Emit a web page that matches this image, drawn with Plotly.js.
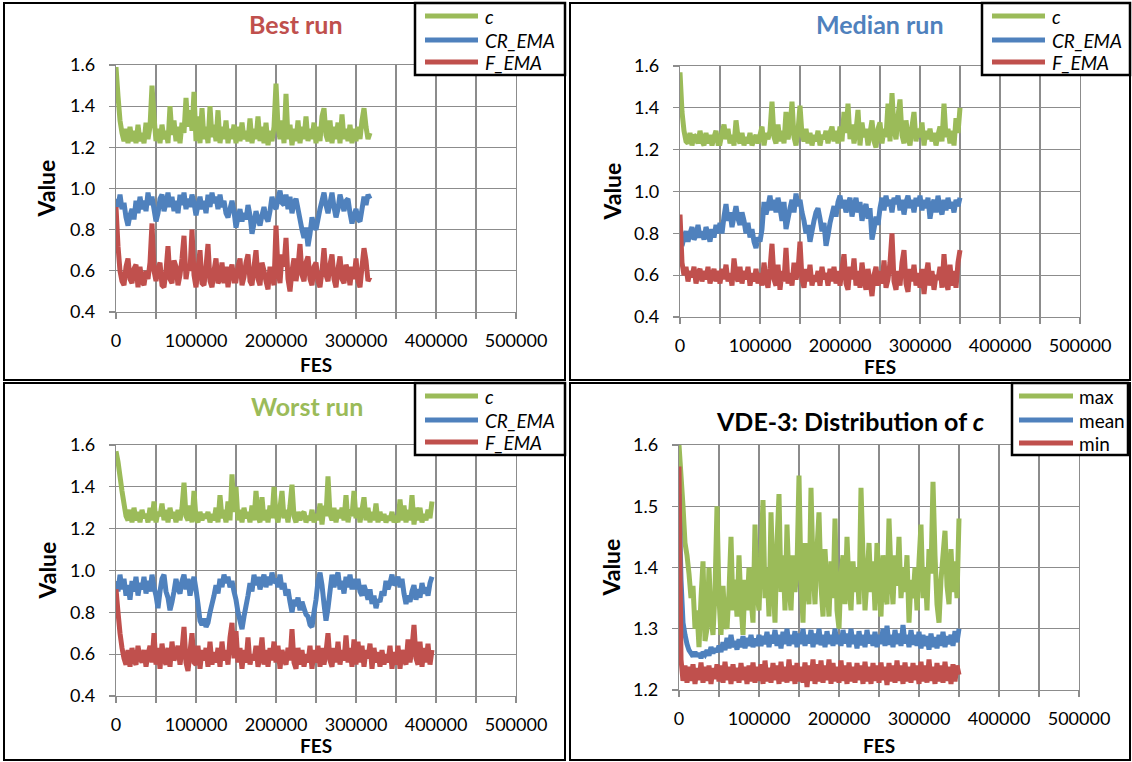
<!DOCTYPE html>
<html><head><meta charset="utf-8">
<script src="https://cdn.plot.ly/plotly-3.0.1.min.js"></script>
<style>html,body{margin:0;padding:0;background:#fff}</style>
</head><body><div id="chart" style="width:1132px;height:762px"></div>
<script>
// FES sampling step of the recorded series (one value read every 2500 FES)
const FES_STEP = 2500;

// Best run (0 .. 317500 FES)
const bestC = [
1.59,1.45,1.33,1.27,1.23,1.29,1.22,1.30,1.23,1.28,1.22,1.31,1.23,1.27,1.22,1.32,1.24,1.30,1.50,1.35,
1.23,1.29,1.22,1.31,1.24,1.28,1.22,1.40,1.26,1.33,1.23,1.30,1.22,1.32,1.27,1.44,1.30,1.38,1.28,1.47,
1.23,1.35,1.22,1.39,1.24,1.30,1.22,1.40,1.25,1.31,1.23,1.38,1.22,1.30,1.24,1.33,1.22,1.29,1.24,1.31,
1.22,1.30,1.23,1.32,1.24,1.28,1.23,1.34,1.22,1.29,1.24,1.35,1.23,1.30,1.22,1.32,1.21,1.28,1.23,1.30,
1.51,1.30,1.24,1.33,1.22,1.46,1.24,1.31,1.21,1.29,1.23,1.33,1.22,1.30,1.24,1.35,1.23,1.29,1.24,1.32,
1.22,1.30,1.23,1.35,1.39,1.26,1.23,1.33,1.22,1.30,1.24,1.32,1.22,1.36,1.24,1.29,1.23,1.31,1.22,1.29,
1.23,1.30,1.24,1.33,1.39,1.30,1.24,1.27];
const bestCR = [
0.95,0.91,0.97,0.90,0.93,0.86,0.82,0.87,0.90,0.85,0.94,0.88,0.96,0.90,0.94,0.89,0.98,0.92,0.96,0.90,
0.84,0.88,0.95,0.97,0.89,0.93,0.98,0.91,0.96,0.89,0.94,0.88,0.97,0.92,0.98,0.90,0.95,0.91,0.97,0.93,
0.87,0.92,0.96,0.90,0.94,0.88,0.97,0.91,0.98,0.93,0.96,0.90,0.97,0.91,0.94,0.88,0.86,0.90,0.94,0.89,
0.81,0.86,0.90,0.84,0.88,0.85,0.92,0.87,0.78,0.83,0.89,0.85,0.82,0.87,0.91,0.86,0.84,0.89,0.96,0.92,
0.90,0.95,0.99,0.93,0.92,0.97,0.90,0.96,0.88,0.93,0.95,0.90,0.85,0.80,0.76,0.81,0.72,0.78,0.86,0.82,
0.80,0.85,0.90,0.94,0.98,0.92,0.88,0.93,0.98,0.91,0.86,0.90,0.97,0.93,0.89,0.94,0.95,0.88,0.83,0.87,
0.90,0.85,0.84,0.90,0.96,0.92,0.97,0.95];
const bestF = [
0.91,0.72,0.60,0.55,0.53,0.62,0.66,0.56,0.54,0.61,0.63,0.52,0.62,0.55,0.53,0.60,0.56,0.64,0.83,0.60,
0.55,0.61,0.64,0.53,0.52,0.60,0.72,0.56,0.54,0.65,0.62,0.53,0.58,0.66,0.77,0.56,0.63,0.60,0.80,0.58,
0.52,0.61,0.70,0.54,0.53,0.62,0.73,0.55,0.52,0.60,0.66,0.54,0.56,0.64,0.54,0.62,0.52,0.60,0.63,0.55,
0.55,0.62,0.66,0.53,0.57,0.64,0.68,0.55,0.53,0.62,0.70,0.56,0.53,0.64,0.60,0.55,0.51,0.62,0.58,0.53,
0.82,0.60,0.54,0.68,0.62,0.76,0.56,0.50,0.60,0.66,0.55,0.62,0.73,0.58,0.55,0.64,0.67,0.56,0.53,0.62,
0.64,0.55,0.52,0.60,0.71,0.58,0.55,0.63,0.68,0.56,0.52,0.61,0.67,0.56,0.54,0.63,0.60,0.53,0.62,0.56,
0.66,0.55,0.52,0.62,0.71,0.65,0.55,0.57];

// Median run (0 .. 350000 FES)
const medC = [
1.57,1.38,1.29,1.24,1.23,1.28,1.22,1.27,1.26,1.23,1.29,1.24,1.22,1.28,1.23,1.27,1.22,1.26,1.29,1.23,
1.23,1.28,1.32,1.25,1.30,1.23,1.27,1.22,1.34,1.26,1.23,1.28,1.22,1.26,1.23,1.28,1.22,1.25,1.27,1.23,
1.27,1.31,1.22,1.28,1.25,1.29,1.43,1.26,1.23,1.32,1.24,1.29,1.23,1.38,1.25,1.30,1.43,1.26,1.22,1.29,
1.41,1.27,1.24,1.30,1.23,1.28,1.22,1.27,1.24,1.29,1.22,1.27,1.25,1.29,1.23,1.28,1.31,1.24,1.29,1.23,
1.31,1.24,1.38,1.28,1.42,1.25,1.32,1.23,1.29,1.39,1.22,1.33,1.26,1.30,1.22,1.28,1.34,1.24,1.21,1.30,
1.33,1.23,1.30,1.26,1.42,1.24,1.47,1.30,1.25,1.36,1.44,1.27,1.23,1.34,1.26,1.22,1.31,1.38,1.24,1.30,
1.26,1.33,1.22,1.29,1.25,1.30,1.24,1.28,1.22,1.27,1.31,1.24,1.42,1.26,1.30,1.23,1.29,1.22,1.35,1.28,
1.40];
const medCR = [
0.82,0.74,0.78,0.81,0.76,0.80,0.83,0.77,0.79,0.84,0.78,0.81,0.77,0.83,0.80,0.76,0.82,0.78,0.84,0.80,
0.85,0.80,0.88,0.94,0.86,0.90,0.83,0.88,0.93,0.87,0.84,0.90,0.86,0.80,0.85,0.78,0.82,0.76,0.73,0.78,
0.76,0.82,0.95,0.89,0.93,0.98,0.91,0.96,0.90,0.97,0.92,0.86,0.95,0.82,0.87,0.92,0.96,0.90,0.99,0.93,
0.96,0.90,0.86,0.80,0.84,0.76,0.81,0.86,0.90,0.92,0.87,0.81,0.85,0.74,0.79,0.85,0.89,0.93,0.88,0.95,
0.98,0.92,0.96,0.90,0.94,0.97,0.88,0.93,0.97,0.90,0.95,0.86,0.91,0.94,0.87,0.92,0.77,0.82,0.88,0.84,
0.92,0.97,0.91,0.98,0.93,0.96,0.90,0.97,0.94,0.98,0.91,0.96,0.89,0.95,0.98,0.92,0.96,0.90,0.97,0.93,
0.98,0.91,0.96,0.92,0.97,0.87,0.93,0.96,0.90,0.98,0.92,0.89,0.96,0.91,0.97,0.92,0.95,0.90,0.96,0.93,
0.97];
const medF = [
0.89,0.66,0.60,0.64,0.57,0.62,0.59,0.64,0.56,0.61,0.63,0.57,0.62,0.58,0.64,0.56,0.60,0.63,0.57,0.62,
0.56,0.63,0.58,0.65,0.57,0.61,0.55,0.68,0.60,0.57,0.64,0.56,0.62,0.58,0.64,0.55,0.61,0.57,0.63,0.56,
0.61,0.55,0.66,0.58,0.54,0.63,0.75,0.58,0.55,0.65,0.53,0.62,0.57,0.73,0.56,0.61,0.55,0.66,0.58,0.62,
0.76,0.58,0.54,0.63,0.57,0.65,0.55,0.60,0.57,0.62,0.55,0.64,0.58,0.61,0.55,0.63,0.57,0.64,0.56,0.62,
0.55,0.63,0.70,0.56,0.53,0.64,0.58,0.68,0.55,0.62,0.54,0.66,0.58,0.53,0.63,0.57,0.50,0.60,0.64,0.55,
0.62,0.56,0.67,0.54,0.58,0.66,0.80,0.57,0.53,0.62,0.55,0.66,0.72,0.56,0.52,0.63,0.57,0.65,0.55,0.61,
0.54,0.63,0.51,0.60,0.66,0.55,0.62,0.53,0.60,0.58,0.64,0.54,0.70,0.57,0.53,0.65,0.55,0.62,0.54,0.66,
0.72];

// Worst run (0 .. 395000 FES)
const worstC = [
1.57,1.52,1.45,1.38,1.32,1.26,1.24,1.29,1.23,1.30,1.24,1.28,1.23,1.29,1.25,1.27,1.23,1.30,1.24,1.33,
1.23,1.28,1.26,1.32,1.24,1.29,1.23,1.30,1.25,1.28,1.23,1.29,1.24,1.30,1.42,1.26,1.24,1.31,1.23,1.38,
1.25,1.23,1.28,1.24,1.27,1.25,1.28,1.23,1.27,1.24,1.30,1.23,1.36,1.25,1.29,1.23,1.33,1.24,1.46,1.28,
1.40,1.24,1.29,1.23,1.30,1.25,1.28,1.23,1.31,1.24,1.38,1.26,1.23,1.35,1.24,1.29,1.23,1.31,1.25,1.40,
1.27,1.23,1.30,1.38,1.25,1.29,1.23,1.31,1.41,1.26,1.23,1.28,1.24,1.27,1.28,1.23,1.26,1.24,1.29,1.23,
1.27,1.24,1.32,1.22,1.31,1.26,1.45,1.27,1.24,1.30,1.23,1.29,1.25,1.30,1.24,1.36,1.23,1.29,1.26,1.38,
1.25,1.30,1.23,1.29,1.35,1.24,1.30,1.23,1.28,1.24,1.32,1.23,1.28,1.24,1.27,1.23,1.26,1.24,1.28,1.23,
1.26,1.23,1.34,1.24,1.31,1.23,1.29,1.24,1.36,1.22,1.30,1.24,1.30,1.23,1.27,1.24,1.29,1.25,1.33];
const worstCR = [
0.95,0.90,0.98,0.91,0.96,0.88,0.93,0.86,0.95,0.90,0.97,0.88,0.94,0.91,0.97,0.89,0.95,0.90,0.98,0.92,
0.88,0.82,0.90,0.96,0.98,0.90,0.87,0.81,0.85,0.90,0.96,0.91,0.89,0.95,0.98,0.91,0.96,0.88,0.93,0.97,
0.91,0.84,0.76,0.74,0.77,0.73,0.75,0.80,0.84,0.88,0.93,0.89,0.96,0.92,0.98,0.94,0.97,0.92,0.95,0.90,
0.86,0.80,0.76,0.72,0.78,0.83,0.88,0.94,0.90,0.98,0.93,0.97,0.91,0.95,0.98,0.92,0.97,0.93,0.99,0.94,
0.96,0.92,0.98,0.91,0.94,0.88,0.91,0.85,0.80,0.86,0.83,0.87,0.81,0.85,0.82,0.79,0.78,0.74,0.73,0.80,
0.86,0.95,0.99,0.93,0.84,0.76,0.82,0.90,0.98,0.92,0.96,0.99,0.91,0.95,0.89,0.97,0.92,0.98,0.91,0.96,
0.91,0.96,0.90,0.88,0.93,0.90,0.86,0.91,0.84,0.88,0.82,0.86,0.85,0.90,0.88,0.95,0.91,0.94,0.98,0.93,
0.94,0.97,0.92,0.96,0.89,0.84,0.88,0.85,0.90,0.93,0.86,0.91,0.87,0.94,0.89,0.92,0.88,0.94,0.97];
const worstF = [
0.91,0.80,0.70,0.63,0.58,0.55,0.62,0.54,0.63,0.57,0.55,0.64,0.58,0.56,0.62,0.54,0.60,0.64,0.56,0.70,
0.55,0.63,0.53,0.65,0.58,0.55,0.63,0.54,0.66,0.57,0.60,0.64,0.55,0.62,0.73,0.56,0.52,0.61,0.70,0.56,
0.55,0.64,0.53,0.62,0.57,0.63,0.54,0.66,0.55,0.61,0.56,0.63,0.54,0.66,0.57,0.62,0.55,0.68,0.75,0.58,
0.71,0.56,0.63,0.53,0.62,0.56,0.68,0.55,0.60,0.57,0.64,0.54,0.59,0.68,0.55,0.62,0.54,0.63,0.57,0.66,
0.56,0.64,0.53,0.62,0.58,0.55,0.63,0.57,0.72,0.56,0.53,0.63,0.55,0.62,0.54,0.60,0.56,0.64,0.53,0.62,
0.56,0.64,0.54,0.63,0.55,0.61,0.70,0.57,0.54,0.63,0.56,0.66,0.55,0.62,0.57,0.69,0.56,0.63,0.54,0.67,
0.55,0.66,0.56,0.64,0.54,0.62,0.58,0.65,0.53,0.63,0.56,0.61,0.54,0.62,0.55,0.60,0.56,0.64,0.53,0.61,
0.55,0.64,0.53,0.62,0.58,0.55,0.67,0.56,0.63,0.74,0.58,0.55,0.66,0.54,0.63,0.56,0.65,0.55,0.62];

// VDE-3: distribution of c over runs (0 .. 350000 FES)
const vdeMax = [
1.60,1.55,1.50,1.44,1.42,1.39,1.35,1.37,1.30,1.33,1.27,1.35,1.41,1.28,1.30,1.40,1.32,1.29,1.36,1.50,
1.35,1.29,1.37,1.31,1.30,1.36,1.45,1.33,1.38,1.32,1.42,1.34,1.29,1.38,1.33,1.40,1.35,1.31,1.47,1.36,
1.33,1.42,1.51,1.35,1.40,1.32,1.49,1.38,1.31,1.44,1.52,1.36,1.42,1.33,1.47,1.37,1.33,1.42,1.36,1.40,
1.55,1.38,1.31,1.44,1.37,1.34,1.53,1.40,1.34,1.43,1.49,1.37,1.32,1.43,1.37,1.32,1.41,1.35,1.48,1.33,
1.30,1.39,1.42,1.34,1.45,1.37,1.33,1.41,1.36,1.40,1.34,1.53,1.42,1.33,1.38,1.44,1.36,1.41,1.33,1.44,
1.38,1.32,1.42,1.36,1.34,1.48,1.39,1.34,1.42,1.37,1.45,1.35,1.40,1.36,1.42,1.31,1.38,1.35,1.40,1.33,
1.41,1.47,1.35,1.40,1.33,1.43,1.39,1.54,1.42,1.34,1.31,1.38,1.42,1.46,1.37,1.34,1.43,1.36,1.41,1.35,
1.48];
const vdeMean = [
1.52,1.38,1.31,1.29,1.275,1.265,1.26,1.255,1.262,1.255,1.26,1.252,1.262,1.258,1.265,1.256,1.27,1.26,1.268,1.262,
1.272,1.262,1.278,1.265,1.285,1.268,1.29,1.27,1.28,1.266,1.283,1.27,1.288,1.268,1.285,1.272,1.29,1.27,1.284,1.272,
1.29,1.272,1.288,1.275,1.295,1.27,1.29,1.276,1.298,1.272,1.29,1.268,1.295,1.275,1.30,1.272,1.29,1.275,1.296,1.27,
1.292,1.275,1.30,1.272,1.29,1.276,1.298,1.27,1.292,1.275,1.30,1.273,1.29,1.27,1.296,1.275,1.29,1.272,1.30,1.275,
1.29,1.272,1.298,1.276,1.292,1.27,1.30,1.275,1.29,1.268,1.296,1.273,1.29,1.27,1.298,1.276,1.29,1.272,1.295,1.27,
1.29,1.275,1.30,1.272,1.305,1.274,1.29,1.27,1.298,1.275,1.292,1.272,1.306,1.276,1.29,1.27,1.298,1.274,1.29,1.272,
1.295,1.268,1.29,1.272,1.288,1.266,1.292,1.27,1.286,1.268,1.29,1.272,1.295,1.27,1.288,1.275,1.29,1.272,1.296,1.278,
1.30];
const vdeMin = [
1.565,1.25,1.215,1.24,1.212,1.238,1.215,1.242,1.21,1.236,1.216,1.245,1.212,1.238,1.215,1.24,1.21,1.236,1.218,1.242,
1.214,1.24,1.212,1.246,1.216,1.238,1.21,1.242,1.215,1.236,1.212,1.244,1.216,1.238,1.21,1.24,1.214,1.245,1.212,1.238,
1.215,1.242,1.21,1.248,1.214,1.236,1.212,1.244,1.216,1.24,1.21,1.246,1.214,1.238,1.212,1.25,1.215,1.24,1.21,1.244,
1.214,1.238,1.212,1.245,1.205,1.24,1.215,1.25,1.21,1.242,1.214,1.248,1.212,1.24,1.216,1.25,1.21,1.244,1.214,1.238,
1.212,1.248,1.215,1.24,1.21,1.245,1.214,1.238,1.212,1.244,1.216,1.24,1.21,1.246,1.214,1.238,1.21,1.244,1.215,1.24,
1.212,1.245,1.216,1.238,1.208,1.244,1.214,1.24,1.212,1.248,1.215,1.24,1.21,1.245,1.214,1.238,1.212,1.244,1.216,1.24,
1.21,1.246,1.214,1.24,1.212,1.25,1.215,1.238,1.21,1.244,1.214,1.24,1.212,1.246,1.215,1.238,1.21,1.242,1.214,1.24,
1.225];

const runNames = ['c', 'CR_EMA', 'F_EMA'];
const distNames = ['max', 'mean', 'min'];
const panelTitles = ['Best run', 'Median run', 'Worst run', 'VDE-3: Distribution of <i>c</i>'];

// ---------- styling / layout ----------
const W = 1132, H = 762;
const GREEN = '#9BBB59', BLUE = '#4F81BD', RED = '#C0504D';
const COLORS = [GREEN, BLUE, RED];
const GRID = '#8c8c8c';
const FONT = 'Lato, "Liberation Sans", sans-serif';
const px = x => x / W;
const py = y => 1 - y / H;

const panels = [
  {ax:'', plot:[116,65,516,312], yr:[0.4,1.6], dy:0.2, series:[bestC,bestCR,bestF], names:runNames, italic:true,
   title:{x:296,y:24,color:RED}, valueX:46, fesY:364, border:[4,3,565,380],
   legend:{box:[415,3,565,75], l0:425, l1:478, tx:483, rows:[16,40,62]}},
  {ax:'2', plot:[680,66,1080,317], yr:[0.4,1.6], dy:0.2, series:[medC,medCR,medF], names:runNames, italic:true,
   title:{x:880,y:24,color:BLUE}, valueX:612, fesY:366, border:[570,3,1130,380],
   legend:{box:[982,3,1130,75], l0:992, l1:1045, tx:1050, rows:[16,40,62]}},
  {ax:'3', plot:[116,445,516,696], yr:[0.4,1.6], dy:0.2, series:[worstC,worstCR,worstF], names:runNames, italic:true,
   title:{x:307,y:406,color:GREEN}, valueX:46, fesY:745, border:[4,383,565,760],
   legend:{box:[415,383,565,455], l0:425, l1:478, tx:483, rows:[396,420,442]}},
  {ax:'4', plot:[679,445,1079,690], yr:[1.2,1.6], dy:0.1, series:[vdeMax,vdeMean,vdeMin], names:distNames, italic:false,
   title:{x:850,y:421,color:'#000'}, valueX:610, fesY:745, border:[570,383,1130,760],
   legend:{box:[1012,383,1128,455], l0:1019, l1:1073, tx:1077, rows:[396,420,443]}}
];

const traces = [];
const layout = {
  width: W, height: H, margin:{l:0,r:0,t:0,b:0,pad:0},
  paper_bgcolor:'#fff', plot_bgcolor:'#fff', showlegend:false,
  shapes:[], annotations:[], font:{family:FONT, color:'#000'}
};

panels.forEach((p, i) => {
  const xa = 'xaxis' + p.ax, ya = 'yaxis' + p.ax;
  const xr = 'x' + p.ax, yr = 'y' + p.ax;
  layout[xa] = {
    domain:[px(p.plot[0]), px(p.plot[2])], anchor:yr, range:[0,500000],
    tick0:0, dtick:100000, tickformat:'d',
    showgrid:true, gridcolor:GRID, gridwidth:1.3, zeroline:false,
    showline:true, linecolor:GRID, linewidth:1.3, mirror:true,
    ticks:'outside', ticklen:6, tickcolor:GRID, tickwidth:1.3,
    minor:{dtick:50000, showgrid:true, gridcolor:GRID, gridwidth:1.3, ticks:'outside', ticklen:6, tickcolor:GRID, tickwidth:1.3},
    tickfont:{family:FONT, size:18, color:'#000'}, ticklabelstandoff:6, fixedrange:true
  };
  layout[ya] = {
    domain:[py(p.plot[3]), py(p.plot[1])], anchor:xr, range:p.yr,
    tick0:p.yr[0], dtick:p.dy, tickformat:'.1f',
    showgrid:true, gridcolor:GRID, gridwidth:1.3, zeroline:false,
    showline:true, linecolor:GRID, linewidth:1.3, mirror:true,
    ticks:'outside', ticklen:6, tickcolor:GRID, tickwidth:1.3,
    tickfont:{family:FONT, size:18, color:'#000'}, ticklabelstandoff:10, fixedrange:true
  };
  p.series.forEach((ys, k) => {
    traces.push({
      type:'scatter', mode:'lines', name:p.names[k], x0:0, dx:FES_STEP, y:ys,
      xaxis:xr, yaxis:yr, line:{color:COLORS[k], width:5, simplify:false}, hoverinfo:'skip'
    });
  });
  // panel frame
  layout.shapes.push({type:'rect', xref:'paper', yref:'paper',
    x0:px(p.border[0]), x1:px(p.border[2]), y0:py(p.border[3]), y1:py(p.border[1]),
    line:{color:'#000', width:2}, fillcolor:'rgba(0,0,0,0)'});
  // legend box
  const L = p.legend;
  layout.shapes.push({type:'rect', xref:'paper', yref:'paper',
    x0:px(L.box[0]), x1:px(L.box[2]), y0:py(L.box[3]), y1:py(L.box[1]),
    line:{color:'#000', width:2.5}, fillcolor:'#fff'});
  L.rows.forEach((ry, k) => {
    layout.shapes.push({type:'line', xref:'paper', yref:'paper',
      x0:px(L.l0), x1:px(L.l1), y0:py(ry), y1:py(ry), line:{color:COLORS[k], width:5}});
    layout.annotations.push({xref:'paper', yref:'paper', x:px(L.tx), y:py(ry), xanchor:'left', yanchor:'middle',
      text:p.names[k], showarrow:false,
      font:{family:FONT, size:19, color:'#000', style:p.italic ? 'italic' : 'normal'}});
  });
  // panel title
  layout.annotations.push({xref:'paper', yref:'paper', x:px(p.title.x), y:py(p.title.y), xanchor:'center', yanchor:'middle',
    text:panelTitles[i], showarrow:false, font:{family:FONT, size:25, weight:700, color:p.title.color}});
  // axis titles
  layout.annotations.push({xref:'paper', yref:'paper', x:px(p.valueX), y:py((p.plot[1]+p.plot[3])/2), xanchor:'center', yanchor:'middle',
    text:'Value', textangle:-90, showarrow:false, font:{family:FONT, size:23, weight:700, color:'#000'}});
  layout.annotations.push({xref:'paper', yref:'paper', x:px((p.plot[0]+p.plot[2])/2), y:py(p.fesY), xanchor:'center', yanchor:'middle',
    text:'FES', showarrow:false, font:{family:FONT, size:19, weight:700, color:'#000'}});
});

Plotly.newPlot('chart', traces, layout, {staticPlot:true, displayModeBar:false});
</script>
</body></html>
